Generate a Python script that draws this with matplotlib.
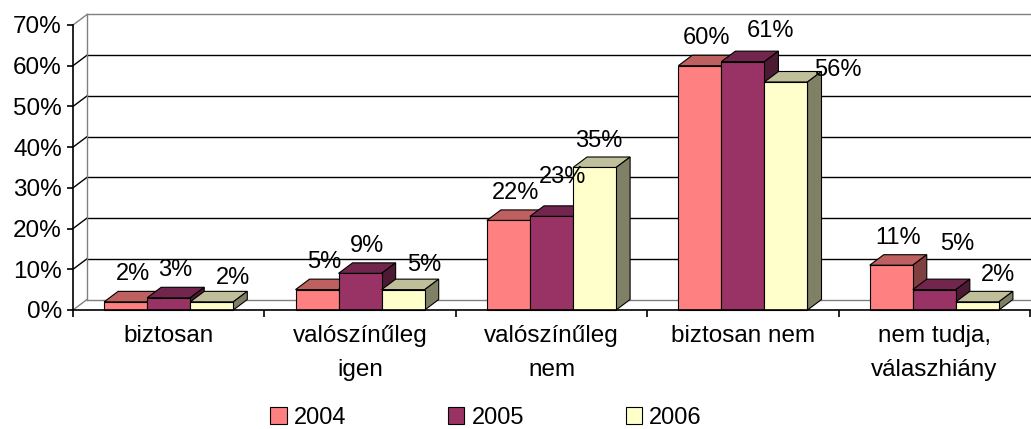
import matplotlib.pyplot as plt
from matplotlib.patches import Polygon, Patch

plt.rcParams['font.family'] = ['Liberation Sans', 'DejaVu Sans']

# data (percent)
categories = ['biztosan', 'valószínűleg\nigen', 'valószínűleg\nnem',
              'biztosan nem', 'nem tudja,\nválaszhiány']
years = ['2004', '2005', '2006']
v2004 = [2, 5, 22, 60, 11]
v2005 = [3, 9, 23, 61, 5]
v2006 = [2, 5, 35, 56, 2]
series = [v2004, v2005, v2006]

# front / top / side colours per series
front_colors = ['#FF8080', '#993366', '#FFFFCC']
top_colors = ['#BF6060', '#73264D', '#BFBF99']
side_colors = ['#804040', '#4D1A33', '#808066']

# label nudges in pixels (Excel placed some labels oddly)
label_nudge = [
    [(0, 0), (0, 0), (0, 0), (0, 0), (0, 0)],
    [(0, 0), (0, 0), (4, 12), (21, 3), (16, 18)],
    [(14, -4), (14, -3), (-3, -1), (45, -16), (14, -1)],
]

fig = plt.figure(figsize=(10.31, 4.29), dpi=100)
ax = fig.add_axes([73 / 1031, 1 - 310 / 429, 957 / 1031, 285 / 429])
ax.set_xlim(0, 5)
ax.set_ylim(0, 70)

# depth offset of the 3d effect, in data units
DX = 14 / 191.4
DY = 10.5 / (285 / 70)
grey = '#808080'
XR = 5.3

# back wall
for v in range(0, 80, 10):
    col = grey if v in (0, 70) else 'black'
    ax.plot([DX, XR], [v + DY, v + DY], color=col, lw=1.0, clip_on=False, zorder=1)
    ax.plot([0, DX], [v, v + DY], color=col, lw=1.0, clip_on=False, zorder=1)
ax.plot([DX, DX], [DY, 70 + DY], color=grey, lw=1.0, clip_on=False, zorder=1)

# bars
bw = 0.225
for i, vals in enumerate(series):
    for j, v in enumerate(vals):
        x0 = j + 0.5 - 1.5 * bw + i * bw
        x1 = x0 + bw
        top = Polygon([(x0, v), (x1, v), (x1 + DX, v + DY), (x0 + DX, v + DY)],
                      facecolor=top_colors[i], edgecolor='black', lw=0.8, zorder=2 + j * 3 + i)
        side = Polygon([(x1, 0), (x1 + DX, DY), (x1 + DX, v + DY), (x1, v)],
                       facecolor=side_colors[i], edgecolor='black', lw=0.8, zorder=2 + j * 3 + i)
        front = Polygon([(x0, 0), (x1, 0), (x1, v), (x0, v)],
                        facecolor=front_colors[i], edgecolor='black', lw=0.8, zorder=2 + j * 3 + i)
        for p in (top, side, front):
            p.set_clip_on(False)
            ax.add_patch(p)
        nx, ny = label_nudge[i][j]
        ax.annotate(f'{v}%', xy=(x0 + bw / 2 + DX / 2, v + DY),
                    xytext=(nx, 6 + ny), textcoords='offset pixels',
                    ha='center', va='bottom', fontsize=17, zorder=40,
                    annotation_clip=False)

# axes
for s in ['top', 'right']:
    ax.spines[s].set_visible(False)
ax.spines['left'].set_linewidth(1.2)
ax.spines['bottom'].set_linewidth(1.2)
ax.spines['left'].set_zorder(30)
ax.spines['bottom'].set_zorder(30)

ax.set_yticks(range(0, 80, 10))
ax.set_yticklabels([f'{v}%' for v in range(0, 80, 10)], fontsize=17.5)
ax.tick_params(axis='y', length=4.5, width=1.2, pad=3.5)

ax.set_xticks([j + 0.5 for j in range(5)])
ax.set_xticklabels(categories, fontsize=17.5, linespacing=1.7)
ax.set_xticks(range(6), minor=True)
ax.tick_params(axis='x', which='major', length=0, pad=11)
ax.tick_params(axis='x', which='minor', length=5, width=1.2)

handles = [Patch(facecolor=front_colors[i], edgecolor='black', lw=0.8) for i in range(3)]
fig.legend(handles, years, loc='center', bbox_to_anchor=(486 / 1031, 1 - 418 / 429),
           ncol=3, frameon=False, fontsize=17, handlelength=0.7, handleheight=0.7,
           handletextpad=0.3, columnspacing=4.3, borderpad=0)

fig.savefig('out.png', dpi=100)
